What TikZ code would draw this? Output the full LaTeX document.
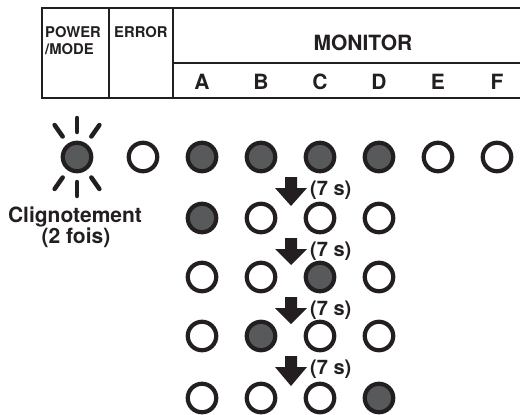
\documentclass[tikz,border=0pt]{standalone}
\usepackage{fontspec}
\setmainfont{TeX Gyre Heros}
\definecolor{ink}{RGB}{35,31,32}
\definecolor{litfill}{RGB}{88,89,91}
\begin{document}
\begin{tikzpicture}[x=1pt,y=-1pt,
  ledoff/.style={circle,draw=ink,line width=4.2pt,fill=white,minimum size=28.5pt,inner sep=0pt},
  ledon/.style={ledoff,fill=litfill},
  tableline/.style={draw=ink,line width=2.8pt},
  bigtxt/.style={font=\fontsize{21}{25}\selectfont\bfseries,text=ink,inner sep=0pt},
  smalltxt/.style={font=\fontsize{14.8}{17}\selectfont\bfseries,text=ink,inner sep=0pt},
  steptxt/.style={font=\fontsize{20}{24}\selectfont\bfseries,text=ink,inner sep=0pt},
  ray/.style={draw=ink,line width=4.5pt,line cap=round},
  steparrow/.style={fill=ink,draw=none}]
\useasboundingbox (0,0) rectangle (520,415);
% table
\draw[tableline] (520,8) -- (42,8) -- (42,98) -- (520,98);
\draw[tableline] (109,8) -- (109,98);
\draw[tableline] (173,8) -- (173,98);
\draw[tableline] (173,63) -- (520,63);
\node[smalltxt,anchor=base west] (power) at (45,37) {POWER};
\node[smalltxt,anchor=base west] (mode) at (45,54) {/MODE};
\node[smalltxt,anchor=base west] (error) at (114,37) {ERROR};
\node[bigtxt] (monitor) at (363,43) {MONITOR};
\foreach \l/\x in {A/202,B/261,C/320,D/379,E/438,F/497}
  \node[bigtxt] (col\l) at (\x,82) {\l};
% row 1
\node[ledon] (pw) at (77,157) {};
\foreach \a in {55,90,125,235,270,305}
  \draw[ray] (pw.center) ++(\a:-25) -- ++(\a:-14);
\node[ledoff] (er) at (143,157) {};
\node[ledon] (r1A) at (202,157) {};
\node[ledon] (r1B) at (261,157) {};
\node[ledon] (r1C) at (320,157) {};
\node[ledon] (r1D) at (379,157) {};
\node[ledoff] (r1E) at (438,157) {};
\node[ledoff] (r1F) at (497,157) {};
\node[bigtxt,anchor=base] (blink1) at (75,222) {Clignotement};
\node[bigtxt,anchor=base] (blink2) at (76,243) {(2 fois)};
% rows 2-5
\node[ledon]  (r2A) at (202,218) {};
\node[ledoff] (r2B) at (261,218) {};
\node[ledoff] (r2C) at (320,218) {};
\node[ledoff] (r2D) at (379,218) {};
\node[ledoff] (r3A) at (202,277) {};
\node[ledoff] (r3B) at (261,277) {};
\node[ledon]  (r3C) at (320,277) {};
\node[ledoff] (r3D) at (379,277) {};
\node[ledoff] (r4A) at (202,336) {};
\node[ledon]  (r4B) at (261,336) {};
\node[ledoff] (r4C) at (320,336) {};
\node[ledoff] (r4D) at (379,336) {};
\node[ledoff] (r5A) at (202,398) {};
\node[ledoff] (r5B) at (261,398) {};
\node[ledoff] (r5C) at (320,398) {};
\node[ledon]  (r5D) at (379,398) {};
% step arrows
\foreach \i/\ya/\yb in {1/157/218,2/218/277,3/277/336,4/336/398}{
  \fill[steparrow] (285,\ya+20) -- (297,\ya+20) -- (297,\ya+31) -- (307,\ya+31)
     -- (291,\yb-12) -- (275,\ya+31) -- (285,\ya+31) -- cycle;
  \node[steptxt,anchor=west] (t\i) at (310,\ya+33) {(7 s)};
}
\end{tikzpicture}
\end{document}
